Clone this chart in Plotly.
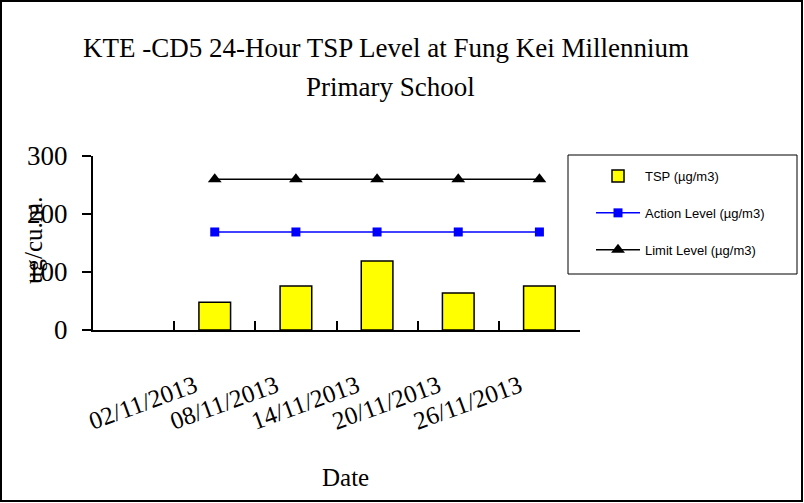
import plotly.graph_objects as go

# ---- data ----
categories = [" ", "02/11/2013", "08/11/2013", "14/11/2013", "20/11/2013", "26/11/2013"]
tsp = [None, 48, 76, 119, 64, 76]
action_level = [None, 169, 169, 169, 169, 169]
limit_level = [None, 260, 260, 260, 260, 260]
y_ticks = [0, 100, 200, 300]

title_line1 = "KTE -CD5 24-Hour TSP Level at Fung Kei Millennium"
title_line2 = "Primary School"

W, H = 804, 503
L, R, T, B = 93, 224, 156, 173
PW, PH = W - L - R, H - T - B

def px(x):
    return (x - L) / PW

def py(y):
    return (H - B - y) / PH

serif = "Liberation Serif, Times New Roman, serif"
sans = "Liberation Sans, Arial, sans-serif"

fig = go.Figure()
fig.add_trace(go.Bar(
    x=categories, y=tsp, name="TSP (\u00b5g/m3)",
    marker=dict(color="#FFFF00", line=dict(color="black", width=1.5)),
    width=0.39, legendgroup="a",
))
fig.add_trace(go.Scatter(
    x=categories, y=action_level, name="Action Level (\u00b5g/m3)",
    mode="lines+markers", line=dict(color="#0000FF", width=1.5),
    marker=dict(symbol="square", size=9, color="#0000FF"), legendgroup="b",
))
fig.add_trace(go.Scatter(
    x=categories, y=limit_level, name="Limit Level (\u00b5g/m3)",
    mode="lines+markers", line=dict(color="black", width=1.5),
    marker=dict(symbol="triangle-up", size=12, color="black"), legendgroup="c",
))

fig.update_layout(
    width=W, height=H,
    margin=dict(l=L, r=R, t=T, b=B),
    paper_bgcolor="white", plot_bgcolor="white",
    showlegend=True,
    legend=dict(
        x=px(591), y=py(161), xanchor="left", yanchor="top",
        bgcolor="rgba(0,0,0,0)", borderwidth=0,
        font=dict(family=sans, size=13, color="black"),
        traceorder="grouped", tracegroupgap=17, itemwidth=44,
    ),
    xaxis=dict(
        type="category", range=[-0.5, 5.5],
        categoryorder="array", categoryarray=categories,
        showline=True, linecolor="black", linewidth=2,
        ticks="inside", ticklen=9, tickwidth=1.5, tickcolor="black",
        tickson="boundaries", tickangle=-20,
        tickfont=dict(family=serif, size=25, color="black"),
        ticklabelstandoff=30, ticklabelshift=-20,
        showgrid=False, zeroline=False,
    ),
    yaxis=dict(
        range=[0, 300], tickvals=y_ticks,
        showline=True, linecolor="black", linewidth=2,
        ticks="outside", ticklen=9, tickwidth=1.5, tickcolor="black",
        tickfont=dict(family=serif, size=27, color="black"),
        ticklabelstandoff=9,
        showgrid=False, zeroline=False,
    ),
    yaxis2=dict(
        range=[0, 300], tickvals=y_ticks, overlaying="y", side="left",
        anchor="x", showline=False, showticklabels=False,
        ticks="inside", ticklen=9, tickwidth=1.5, tickcolor="black",
        showgrid=False, zeroline=False,
    ),
    shapes=[
        dict(type="rect", xref="paper", yref="paper",
             x0=px(1), x1=px(802), y0=py(501), y1=py(1),
             line=dict(color="black", width=2), layer="below"),
        dict(type="rect", xref="paper", yref="paper",
             x0=px(568), x1=px(797), y0=py(274), y1=py(155),
             line=dict(color="black", width=1), fillcolor="white", layer="below"),
    ],
    annotations=[
        dict(text=title_line1, xref="paper", yref="paper", x=px(386), y=py(48),
             xanchor="center", yanchor="middle", showarrow=False,
             font=dict(family=serif, size=27, color="black")),
        dict(text=title_line2, xref="paper", yref="paper", x=px(390), y=py(87),
             xanchor="center", yanchor="middle", showarrow=False,
             font=dict(family=serif, size=27, color="black")),
        dict(text="ug/cu.m.", xref="paper", yref="paper", x=px(33), y=py(240),
             xanchor="center", yanchor="middle", textangle=-90, showarrow=False,
             font=dict(family=serif, size=25, color="black")),
        dict(text="Date", xref="paper", yref="paper", x=px(345), y=py(477),
             xanchor="center", yanchor="middle", showarrow=False,
             font=dict(family=serif, size=25, color="black")),
    ],
)

fig.write_html(
    "out.html",
    config={"displayModeBar": False},
    post_script="document.body.style.margin='0';document.body.style.overflow='hidden';",
)
